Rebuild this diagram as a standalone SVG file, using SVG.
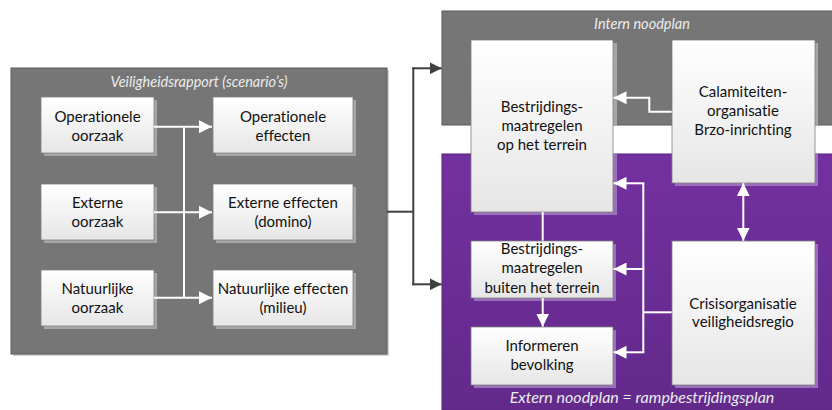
<svg xmlns="http://www.w3.org/2000/svg" width="832" height="410" viewBox="0 0 832 410">
<defs>
<linearGradient id="gBox" x1="0" y1="0" x2="0" y2="1"><stop offset="0" stop-color="#ffffff"/><stop offset="1" stop-color="#e6e6e6"/></linearGradient>
<linearGradient id="gPurple" x1="0" y1="0" x2="0" y2="1"><stop offset="0" stop-color="#7331a0"/><stop offset="1" stop-color="#62298a"/></linearGradient>
<marker id="aw" viewBox="0 0 13 13" refX="13" refY="6.5" markerWidth="13" markerHeight="13" markerUnits="userSpaceOnUse" orient="auto-start-reverse"><path d="M0,0 L13,6.5 L0,13 z" fill="#ffffff"/></marker>
<marker id="ad" viewBox="0 0 12 12" refX="12" refY="6" markerWidth="12" markerHeight="12" markerUnits="userSpaceOnUse" orient="auto"><path d="M0,0 L12,6 L0,12 z" fill="#404040"/></marker>
<style>
.box{fill:url(#gBox);stroke:#7f7f7f;stroke-width:0.8}
.shg{fill:#a6a6a6}
.shp{fill:#9a70bb}
.t{font-family:Lato,"Open Sans","DejaVu Sans",sans-serif;font-size:15px;fill:#111;text-anchor:middle;font-variant-ligatures:none}
.ti{font-family:Lato,"Open Sans","DejaVu Sans",sans-serif;font-size:14.5px;font-style:italic;fill:#ececec;text-anchor:middle;font-variant-ligatures:none}
.w{fill:none;stroke:#ffffff;stroke-width:2}
.d{fill:none;stroke:#404040;stroke-width:2}
</style>
</defs>

<g id="container-veiligheidsrapport">
<rect x="13" y="70" width="376" height="286" fill="#d0d0d0"/>
<rect x="11" y="68" width="376" height="286" fill="#767676" stroke="#5a5a5a" stroke-width="1"/>
<text class="ti" x="199" y="87">Veiligheidsrapport (scenario’s)</text>
</g>

<g id="container-intern">
<rect x="442" y="11" width="400" height="114" fill="#767676" stroke="#5a5a5a" stroke-width="1"/>
<text class="ti" x="642" y="29">Intern noodplan</text>
</g>

<g id="container-extern">
<rect x="442" y="154" width="400" height="260" fill="url(#gPurple)" stroke="#55237a" stroke-width="1"/>
<text class="ti" x="642" y="403" style="font-size:16px">Extern noodplan = rampbestrijdingsplan</text>
</g>

<g id="n-oper-oorzaak">
<rect class="shg" x="44" y="100" width="113" height="56"/>
<rect class="box" x="41" y="97" width="113" height="56"/>
<text class="t" x="97.5" y="121.5">Operationele</text><text class="t" x="97.5" y="140.5">oorzaak</text>
</g>
<g id="n-ext-oorzaak">
<rect class="shg" x="44" y="187" width="113" height="56"/>
<rect class="box" x="41" y="184" width="113" height="56"/>
<text class="t" x="97.5" y="208">Externe</text><text class="t" x="97.5" y="227">oorzaak</text>
</g>
<g id="n-nat-oorzaak">
<rect class="shg" x="44" y="273" width="113" height="56"/>
<rect class="box" x="41" y="270" width="113" height="56"/>
<text class="t" x="97.5" y="294">Natuurlijke</text><text class="t" x="97.5" y="313">oorzaak</text>
</g>
<g id="n-oper-effecten">
<rect class="shg" x="216" y="100" width="140" height="56"/>
<rect class="box" x="213" y="97" width="140" height="56"/>
<text class="t" x="283" y="121.5">Operationele</text><text class="t" x="283" y="140.5">effecten</text>
</g>
<g id="n-ext-effecten">
<rect class="shg" x="216" y="187" width="140" height="56"/>
<rect class="box" x="213" y="184" width="140" height="56"/>
<text class="t" x="283" y="208">Externe effecten</text><text class="t" x="283" y="227">(domino)</text>
</g>
<g id="n-nat-effecten">
<rect class="shg" x="216" y="273" width="140" height="56"/>
<rect class="box" x="213" y="270" width="140" height="56"/>
<text class="t" x="283" y="294">Natuurlijke effecten</text><text class="t" x="283" y="313">(milieu)</text>
</g>

<g id="n-op-terrein">
<rect class="shg" x="474" y="43" width="143" height="82"/>
<rect class="shp" x="474" y="154" width="143" height="61"/>
<rect class="box" x="471" y="40" width="142" height="172"/>
<text class="t" x="542" y="112">Bestrijdings-</text><text class="t" x="542" y="131">maatregelen</text><text class="t" x="542" y="149.5">op het terrein</text>
</g>
<g id="n-calamiteiten">
<rect class="shg" x="675" y="43" width="143" height="82"/>
<rect class="shp" x="675" y="154" width="143" height="32"/>
<rect class="box" x="672" y="40" width="143" height="143"/>
<text class="t" x="743" y="97">Calamiteiten-</text><text class="t" x="743" y="116">organisatie</text><text class="t" x="743" y="135">Brzo-inrichting</text>
</g>
<g id="n-buiten">
<rect class="shp" x="474" y="244" width="142" height="57"/>
<rect class="box" x="471" y="241" width="142" height="57"/>
<text class="t" x="542" y="253.5">Bestrijdings-</text><text class="t" x="542" y="273">maatregelen</text><text class="t" x="542" y="292.5">buiten het terrein</text>
</g>
<g id="n-informeren">
<rect class="shp" x="474" y="330" width="142" height="58"/>
<rect class="box" x="471" y="327" width="142" height="58"/>
<text class="t" x="542" y="351">Informeren</text><text class="t" x="542" y="370">bevolking</text>
</g>
<g id="n-crisis">
<rect class="shp" x="675" y="244" width="143" height="144"/>
<rect class="box" x="672" y="241" width="143" height="144"/>
<text class="t" x="743" y="308.5">Crisisorganisatie</text><text class="t" x="743" y="327">veiligheidsregio</text>
</g>

<g id="connectors">
<path class="w" d="M154,126.7 H212" marker-end="url(#aw)"/>
<path class="w" d="M154,212.3 H212" marker-end="url(#aw)"/>
<path class="w" d="M154,297.7 H212" marker-end="url(#aw)"/>
<path class="w" d="M184,126.7 V297.7"/>
<path class="w" d="M671.7,111.7 H649.3 V97.7 H613.5" marker-end="url(#aw)"/>
<path class="w" d="M671.7,312.3 H643.3"/>
<path class="w" d="M643.3,183.3 V352.3"/>
<path class="w" d="M644.3,183.3 H613.5" marker-end="url(#aw)"/>
<path class="w" d="M644.3,269 H613.5" marker-end="url(#aw)"/>
<path class="w" d="M644.3,352.3 H613.5" marker-end="url(#aw)"/>
<path class="w" d="M743.3,183.2 V240.7" marker-start="url(#aw)" marker-end="url(#aw)"/>
<path class="w" d="M542.7,212 V240.7"/>
<path class="w" d="M542.7,298 V326.7" marker-end="url(#aw)"/>
<path class="d" d="M387,211.7 H413.3"/>
<path class="d" d="M413.3,67.3 V285.3"/>
<path class="d" d="M412.3,68.3 H441.7" marker-end="url(#ad)"/>
<path class="d" d="M412.3,284.3 H441.7" marker-end="url(#ad)"/>
</g>
</svg>
